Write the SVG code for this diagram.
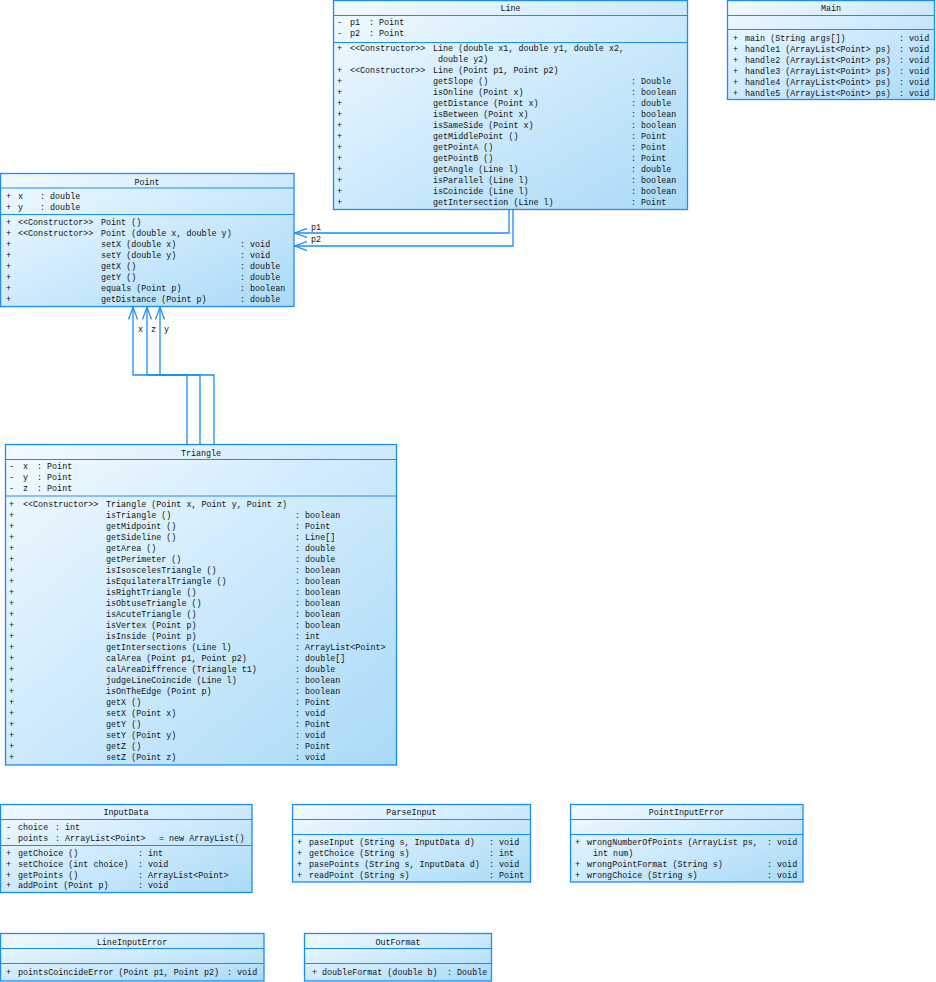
<svg xmlns="http://www.w3.org/2000/svg" width="936" height="982" viewBox="0 0 936 982">
<defs>
<linearGradient id="g" x1="0" y1="0" x2="1" y2="1">
<stop offset="0" stop-color="#f2faff"/>
<stop offset="1" stop-color="#a9daf8"/>
</linearGradient>
<marker id="arr" viewBox="0 0 13 10" refX="12.5" refY="5" markerWidth="13" markerHeight="10" markerUnits="userSpaceOnUse" orient="auto">
<path d="M0,0.5 L12.5,5 L0,9.5" fill="none" stroke="#1a8cff" stroke-width="1.2"/>
</marker>
</defs>
<style>
.box{fill:url(#g);stroke:#1a8cff;stroke-width:1.3}
.sep{stroke:#1a8cff;stroke-width:1.2}
.con{fill:none;stroke:#1a8cff;stroke-width:1.3}
text{font-family:"Liberation Mono","DejaVu Sans Mono",monospace;font-size:8.4px;fill:#111111}
.c{text-anchor:middle}
</style>
<rect width="936" height="982" fill="#ffffff"/>

<g id="connectors">
<polyline class="con" points="509,209.5 509,233 294.5,233" marker-end="url(#arr)"/>
<polyline class="con" points="513,209.5 513,246 294.5,246" marker-end="url(#arr)"/>
<text x="311" y="229.5">p1</text>
<text x="311" y="242">p2</text>
<polyline class="con" points="187,444.5 187,375 133,375 133,307" marker-end="url(#arr)"/>
<polyline class="con" points="200,444.5 200,375 147,375 147,307" marker-end="url(#arr)"/>
<polyline class="con" points="214,444.5 214,375 160,375 160,307" marker-end="url(#arr)"/>
<text x="138" y="332">x</text>
<text x="151" y="332">z</text>
<text x="164" y="332">y</text>
</g>

<g id="Line">
<rect class="box" x="333.5" y="0.5" width="354" height="209"/>
<line class="sep" x1="333.5" y1="15.5" x2="687.5" y2="15.5"/>
<line class="sep" x1="333.5" y1="42.5" x2="687.5" y2="42.5"/>
<text class="c" x="510.5" y="11">Line</text>
<text x="337" y="25">-</text><text x="350" y="25">p1</text><text x="369" y="25">: Point</text>
<text x="337" y="36">-</text><text x="350" y="36">p2</text><text x="369" y="36">: Point</text>
<text x="337" y="51">+</text><text x="350" y="51">&lt;&lt;Constructor&gt;&gt;</text><text x="433" y="51">Line (double x1, double y1, double x2,</text>
<text x="438" y="62">double y2)</text>
<text x="337" y="73">+</text><text x="350" y="73">&lt;&lt;Constructor&gt;&gt;</text><text x="433" y="73">Line (Point p1, Point p2)</text>
<text x="337" y="84">+</text><text x="433" y="84">getSlope ()</text><text x="631" y="84">: Double</text>
<text x="337" y="95">+</text><text x="433" y="95">isOnline (Point x)</text><text x="631" y="95">: boolean</text>
<text x="337" y="106">+</text><text x="433" y="106">getDistance (Point x)</text><text x="631" y="106">: double</text>
<text x="337" y="117">+</text><text x="433" y="117">isBetween (Point x)</text><text x="631" y="117">: boolean</text>
<text x="337" y="128">+</text><text x="433" y="128">isSameSide (Point x)</text><text x="631" y="128">: boolean</text>
<text x="337" y="139">+</text><text x="433" y="139">getMiddlePoint ()</text><text x="631" y="139">: Point</text>
<text x="337" y="150">+</text><text x="433" y="150">getPointA ()</text><text x="631" y="150">: Point</text>
<text x="337" y="161">+</text><text x="433" y="161">getPointB ()</text><text x="631" y="161">: Point</text>
<text x="337" y="172">+</text><text x="433" y="172">getAngle (Line l)</text><text x="631" y="172">: double</text>
<text x="337" y="183">+</text><text x="433" y="183">isParallel (Line l)</text><text x="631" y="183">: boolean</text>
<text x="337" y="194">+</text><text x="433" y="194">isCoincide (Line l)</text><text x="631" y="194">: boolean</text>
<text x="337" y="205">+</text><text x="433" y="205">getIntersection (Line l)</text><text x="631" y="205">: Point</text>
</g>

<g id="Main">
<rect class="box" x="727.5" y="0.5" width="207" height="99"/>
<line class="sep" x1="727.5" y1="15.5" x2="934.5" y2="15.5"/>
<line class="sep" x1="727.5" y1="29.5" x2="934.5" y2="29.5"/>
<text class="c" x="831" y="11">Main</text>
<text x="733" y="41">+</text><text x="745" y="41">main (String args[])</text><text x="899" y="41">: void</text>
<text x="733" y="52">+</text><text x="745" y="52">handle1 (ArrayList&lt;Point&gt; ps)</text><text x="899" y="52">: void</text>
<text x="733" y="63">+</text><text x="745" y="63">handle2 (ArrayList&lt;Point&gt; ps)</text><text x="899" y="63">: void</text>
<text x="733" y="74">+</text><text x="745" y="74">handle3 (ArrayList&lt;Point&gt; ps)</text><text x="899" y="74">: void</text>
<text x="733" y="85">+</text><text x="745" y="85">handle4 (ArrayList&lt;Point&gt; ps)</text><text x="899" y="85">: void</text>
<text x="733" y="96">+</text><text x="745" y="96">handle5 (ArrayList&lt;Point&gt; ps)</text><text x="899" y="96">: void</text>
</g>

<g id="Point">
<rect class="box" x="0.5" y="173.5" width="293.5" height="133"/>
<line class="sep" x1="0.5" y1="188" x2="294" y2="188"/>
<line class="sep" x1="0.5" y1="214.5" x2="294" y2="214.5"/>
<text class="c" x="147" y="184.5">Point</text>
<text x="6" y="199">+</text><text x="18" y="199">x</text><text x="40" y="199">: double</text>
<text x="6" y="210">+</text><text x="18" y="210">y</text><text x="40" y="210">: double</text>
<text x="6" y="225">+</text><text x="18" y="225">&lt;&lt;Constructor&gt;&gt;</text><text x="101" y="225">Point ()</text>
<text x="6" y="236">+</text><text x="18" y="236">&lt;&lt;Constructor&gt;&gt;</text><text x="101" y="236">Point (double x, double y)</text>
<text x="6" y="247">+</text><text x="101" y="247">setX (double x)</text><text x="240" y="247">: void</text>
<text x="6" y="258">+</text><text x="101" y="258">setY (double y)</text><text x="240" y="258">: void</text>
<text x="6" y="269">+</text><text x="101" y="269">getX ()</text><text x="240" y="269">: double</text>
<text x="6" y="280">+</text><text x="101" y="280">getY ()</text><text x="240" y="280">: double</text>
<text x="6" y="291">+</text><text x="101" y="291">equals (Point p)</text><text x="240" y="291">: boolean</text>
<text x="6" y="302">+</text><text x="101" y="302">getDistance (Point p)</text><text x="240" y="302">: double</text>
</g>

<g id="Triangle">
<rect class="box" x="5.5" y="444.5" width="391" height="320.5"/>
<line class="sep" x1="5.5" y1="459.5" x2="396.5" y2="459.5"/>
<line class="sep" x1="5.5" y1="496" x2="396.5" y2="496"/>
<text class="c" x="201" y="455.5">Triangle</text>
<text x="9" y="469">-</text><text x="23" y="469">x</text><text x="37" y="469">: Point</text>
<text x="9" y="480">-</text><text x="23" y="480">y</text><text x="37" y="480">: Point</text>
<text x="9" y="491">-</text><text x="23" y="491">z</text><text x="37" y="491">: Point</text>
<text x="9" y="507">+</text><text x="23" y="507">&lt;&lt;Constructor&gt;&gt;</text><text x="106" y="507">Triangle (Point x, Point y, Point z)</text>
<text x="9" y="518">+</text><text x="106" y="518">isTriangle ()</text><text x="295" y="518">: boolean</text>
<text x="9" y="529">+</text><text x="106" y="529">getMidpoint ()</text><text x="295" y="529">: Point</text>
<text x="9" y="540">+</text><text x="106" y="540">getSideline ()</text><text x="295" y="540">: Line[]</text>
<text x="9" y="551">+</text><text x="106" y="551">getArea ()</text><text x="295" y="551">: double</text>
<text x="9" y="562">+</text><text x="106" y="562">getPerimeter ()</text><text x="295" y="562">: double</text>
<text x="9" y="573">+</text><text x="106" y="573">isIsoscelesTriangle ()</text><text x="295" y="573">: boolean</text>
<text x="9" y="584">+</text><text x="106" y="584">isEquilateralTriangle ()</text><text x="295" y="584">: boolean</text>
<text x="9" y="595">+</text><text x="106" y="595">isRightTriangle ()</text><text x="295" y="595">: boolean</text>
<text x="9" y="606">+</text><text x="106" y="606">isObtuseTriangle ()</text><text x="295" y="606">: boolean</text>
<text x="9" y="617">+</text><text x="106" y="617">isAcuteTriangle ()</text><text x="295" y="617">: boolean</text>
<text x="9" y="628">+</text><text x="106" y="628">isVertex (Point p)</text><text x="295" y="628">: boolean</text>
<text x="9" y="639">+</text><text x="106" y="639">isInside (Point p)</text><text x="295" y="639">: int</text>
<text x="9" y="650">+</text><text x="106" y="650">getIntersections (Line l)</text><text x="295" y="650">: ArrayList&lt;Point&gt;</text>
<text x="9" y="661">+</text><text x="106" y="661">calArea (Point p1, Point p2)</text><text x="295" y="661">: double[]</text>
<text x="9" y="672">+</text><text x="106" y="672">calAreaDiffrence (Triangle t1)</text><text x="295" y="672">: double</text>
<text x="9" y="683">+</text><text x="106" y="683">judgeLineCoincide (Line l)</text><text x="295" y="683">: boolean</text>
<text x="9" y="694">+</text><text x="106" y="694">isOnTheEdge (Point p)</text><text x="295" y="694">: boolean</text>
<text x="9" y="705">+</text><text x="106" y="705">getX ()</text><text x="295" y="705">: Point</text>
<text x="9" y="716">+</text><text x="106" y="716">setX (Point x)</text><text x="295" y="716">: void</text>
<text x="9" y="727">+</text><text x="106" y="727">getY ()</text><text x="295" y="727">: Point</text>
<text x="9" y="738">+</text><text x="106" y="738">setY (Point y)</text><text x="295" y="738">: void</text>
<text x="9" y="749">+</text><text x="106" y="749">getZ ()</text><text x="295" y="749">: Point</text>
<text x="9" y="760">+</text><text x="106" y="760">setZ (Point z)</text><text x="295" y="760">: void</text>
</g>

<g id="InputData">
<rect class="box" x="0.5" y="804.5" width="251.5" height="88"/>
<line class="sep" x1="0.5" y1="819.5" x2="252" y2="819.5"/>
<line class="sep" x1="0.5" y1="845.5" x2="252" y2="845.5"/>
<text class="c" x="126" y="815">InputData</text>
<text x="6" y="830">-</text><text x="18" y="830">choice</text><text x="55" y="830">: int</text>
<text x="6" y="841">-</text><text x="18" y="841">points</text><text x="55" y="841">: ArrayList&lt;Point&gt;</text><text x="159" y="841">= new ArrayList()</text>
<text x="6" y="856">+</text><text x="18" y="856">getChoice ()</text><text x="138" y="856">: int</text>
<text x="6" y="867">+</text><text x="18" y="867">setChoice (int choice)</text><text x="138" y="867">: void</text>
<text x="6" y="877.5">+</text><text x="18" y="877.5">getPoints ()</text><text x="138" y="877.5">: ArrayList&lt;Point&gt;</text>
<text x="6" y="888">+</text><text x="18" y="888">addPoint (Point p)</text><text x="138" y="888">: void</text>
</g>

<g id="ParseInput">
<rect class="box" x="292.5" y="804.5" width="238" height="77.5"/>
<line class="sep" x1="292.5" y1="819.5" x2="530.5" y2="819.5"/>
<line class="sep" x1="292.5" y1="834.5" x2="530.5" y2="834.5"/>
<text class="c" x="411.5" y="815">ParseInput</text>
<text x="297" y="845">+</text><text x="309" y="845">paseInput (String s, InputData d)</text><text x="489" y="845">: void</text>
<text x="297" y="856">+</text><text x="309" y="856">getChoice (String s)</text><text x="489" y="856">: int</text>
<text x="297" y="867">+</text><text x="309" y="867">pasePoints (String s, InputData d)</text><text x="489" y="867">: void</text>
<text x="297" y="878">+</text><text x="309" y="878">readPoint (String s)</text><text x="489" y="878">: Point</text>
</g>

<g id="PointInputError">
<rect class="box" x="570.5" y="804.5" width="232.5" height="77.5"/>
<line class="sep" x1="570.5" y1="819.5" x2="803" y2="819.5"/>
<line class="sep" x1="570.5" y1="834.5" x2="803" y2="834.5"/>
<text class="c" x="686.5" y="815">PointInputError</text>
<text x="575" y="845">+</text><text x="587" y="845">wrongNumberOfPoints (ArrayList ps,</text><text x="767" y="845">: void</text>
<text x="593" y="856">int num)</text>
<text x="575" y="867">+</text><text x="587" y="867">wrongPointFormat (String s)</text><text x="767" y="867">: void</text>
<text x="575" y="878">+</text><text x="587" y="878">wrongChoice (String s)</text><text x="767" y="878">: void</text>
</g>

<g id="LineInputError">
<rect class="box" x="0.5" y="933.5" width="263.5" height="47.5"/>
<line class="sep" x1="0.5" y1="948.5" x2="264" y2="948.5"/>
<line class="sep" x1="0.5" y1="963.5" x2="264" y2="963.5"/>
<text class="c" x="132" y="944.5">LineInputError</text>
<text x="6" y="975">+</text><text x="18" y="975">pointsCoincideError (Point p1, Point p2)</text><text x="227" y="975">: void</text>
</g>

<g id="OutFormat">
<rect class="box" x="304.5" y="933.5" width="187" height="47.5"/>
<line class="sep" x1="304.5" y1="948.5" x2="491.5" y2="948.5"/>
<line class="sep" x1="304.5" y1="963.5" x2="491.5" y2="963.5"/>
<text class="c" x="398" y="944.5">OutFormat</text>
<text x="312" y="975">+</text><text x="322" y="975">doubleFormat (double b)</text><text x="447" y="975">: Double</text>
</g>
</svg>
